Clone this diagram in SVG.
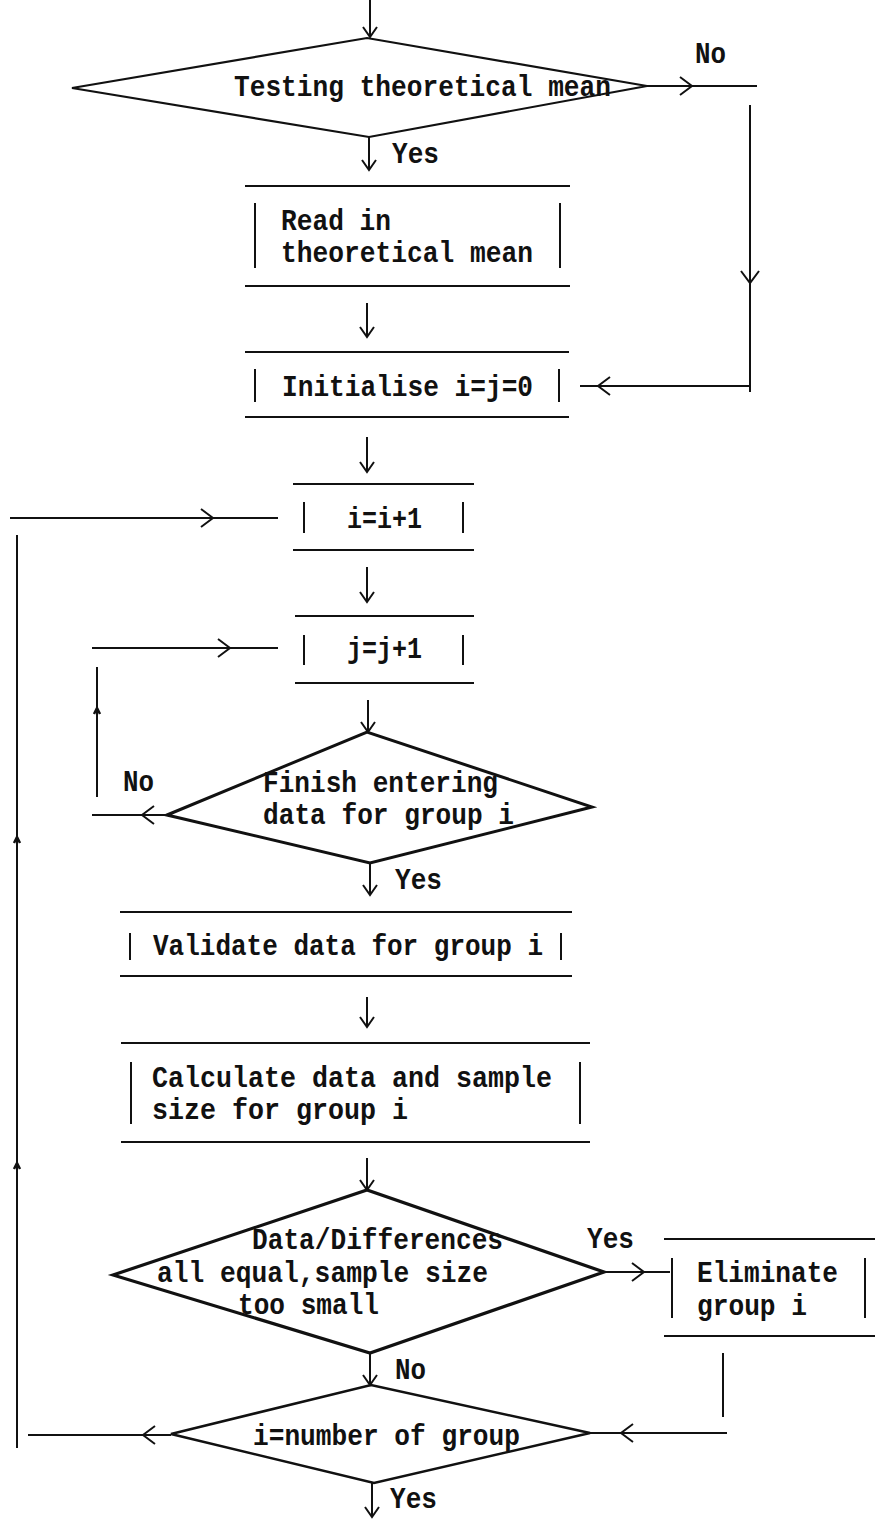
<svg xmlns="http://www.w3.org/2000/svg" width="877" height="1521" viewBox="0 0 877 1521">
<style>
.t{font-family:"Liberation Mono","Courier New",monospace;font-size:30px;font-weight:bold;fill:#111}
.hl{stroke:#111;stroke-width:2.2;fill:none}
.bar{stroke:#111;stroke-width:2;fill:none}
.dm{stroke:#111;stroke-width:2.6;fill:none;stroke-linejoin:miter}
.c{stroke:#111;stroke-width:2;fill:none}
</style>
<defs>
<marker id="big" markerUnits="userSpaceOnUse" markerWidth="30" markerHeight="30" refX="0" refY="0" orient="auto" overflow="visible">
<path d="M-12,-9 L0,0 L-12,9" fill="none" stroke="#111" stroke-width="2"/>
</marker>
<marker id="sm" markerUnits="userSpaceOnUse" markerWidth="30" markerHeight="30" refX="0" refY="0" orient="auto" overflow="visible">
<path d="M-10,-7 L0,0 L-10,7" fill="none" stroke="#111" stroke-width="2"/>
</marker>
<marker id="tiny" markerUnits="userSpaceOnUse" markerWidth="30" markerHeight="30" refX="0" refY="0" orient="auto" overflow="visible">
<path d="M-6,-3 L0,0 L-6,3" fill="none" stroke="#111" stroke-width="2.5"/>
</marker>
</defs>

<g id="connectors">
<path class="c" d="M370,0 L370,37" marker-end="url(#sm)"/>
<path class="c" d="M369,137 L369,170" marker-end="url(#sm)"/>
<path class="c" d="M647,86 L692,86 L757,86" marker-mid="url(#big)"/>
<path class="c" d="M750,105 L750,283 L750,392" marker-mid="url(#big)"/>
<path class="c" d="M750,386 L598,386 L580,386" marker-mid="url(#big)"/>
<path class="c" d="M367,303 L367,337" marker-end="url(#sm)"/>
<path class="c" d="M367,437 L367,472" marker-end="url(#sm)"/>
<path class="c" d="M367,567 L367,602" marker-end="url(#sm)"/>
<path class="c" d="M368,700 L368,732" marker-end="url(#sm)"/>
<path class="c" d="M370,863 L370,895" marker-end="url(#sm)"/>
<path class="c" d="M367,997 L367,1027" marker-end="url(#sm)"/>
<path class="c" d="M367,1158 L367,1190" marker-end="url(#sm)"/>
<path class="c" d="M604,1272 L644,1272 L670,1272" marker-mid="url(#big)"/>
<path class="c" d="M370,1353 L370,1385" marker-end="url(#sm)"/>
<path class="c" d="M723,1353 L723,1417"/>
<path class="c" d="M727,1433 L621,1433 L590,1433" marker-mid="url(#big)"/>
<path class="c" d="M372,1483 L372,1517" marker-end="url(#sm)"/>
<path class="c" d="M171,1435 L143,1435 L28,1435" marker-mid="url(#big)"/>
<path class="c" d="M17,1448 L17,1163 L17,837 L17,535" marker-mid="url(#tiny)"/>
<path class="c" d="M10,518 L213,518 L278,518" marker-mid="url(#big)"/>
<path class="c" d="M167,815 L142,815 L92,815" marker-mid="url(#big)"/>
<path class="c" d="M97,797 L97,708 L97,667" marker-mid="url(#tiny)"/>
<path class="c" d="M92,648 L230,648 L278,648" marker-mid="url(#big)"/>
<text class="t" x="695" y="63" textLength="31" lengthAdjust="spacingAndGlyphs">No</text>
<text class="t" x="392" y="163" textLength="47" lengthAdjust="spacingAndGlyphs">Yes</text>
<text class="t" x="123" y="791" textLength="31" lengthAdjust="spacingAndGlyphs">No</text>
<text class="t" x="395" y="889" textLength="47" lengthAdjust="spacingAndGlyphs">Yes</text>
<text class="t" x="587" y="1248" textLength="47" lengthAdjust="spacingAndGlyphs">Yes</text>
<text class="t" x="395" y="1379" textLength="31" lengthAdjust="spacingAndGlyphs">No</text>
<text class="t" x="390" y="1508" textLength="47" lengthAdjust="spacingAndGlyphs">Yes</text>
</g>

<g id="testing-mean">
<polygon class="dm" style="stroke-width:2.2" points="72,88 367,38 647,86 369,137"/>
<text class="t" x="234" y="96" textLength="377" lengthAdjust="spacingAndGlyphs">Testing theoretical mean</text>
</g>

<g id="read-mean">
<line class="hl" x1="245" y1="186" x2="570" y2="186"/>
<line class="hl" x1="245" y1="286" x2="570" y2="286"/>
<line class="bar" x1="255" y1="203" x2="255" y2="268"/>
<line class="bar" x1="560" y1="203" x2="560" y2="268"/>
<text class="t" x="281" y="230" textLength="110" lengthAdjust="spacingAndGlyphs">Read in</text>
<text class="t" x="281" y="262" textLength="252" lengthAdjust="spacingAndGlyphs">theoretical mean</text>
</g>

<g id="initialise">
<line class="hl" x1="245" y1="352" x2="569" y2="352"/>
<line class="hl" x1="245" y1="417" x2="569" y2="417"/>
<line class="bar" x1="255" y1="369" x2="255" y2="402"/>
<line class="bar" x1="559" y1="369" x2="559" y2="402"/>
<text class="t" x="282" y="396" textLength="251" lengthAdjust="spacingAndGlyphs">Initialise i=j=0</text>
</g>

<g id="inc-i">
<line class="hl" x1="293" y1="484" x2="474" y2="484"/>
<line class="hl" x1="293" y1="550" x2="474" y2="550"/>
<line class="bar" x1="304" y1="502" x2="304" y2="533"/>
<line class="bar" x1="463" y1="502" x2="463" y2="533"/>
<text class="t" x="347" y="528" textLength="75" lengthAdjust="spacingAndGlyphs">i=i+1</text>
</g>

<g id="inc-j">
<line class="hl" x1="295" y1="616" x2="474" y2="616"/>
<line class="hl" x1="295" y1="683" x2="474" y2="683"/>
<line class="bar" x1="304" y1="635" x2="304" y2="665"/>
<line class="bar" x1="463" y1="635" x2="463" y2="665"/>
<text class="t" x="347" y="658" textLength="75" lengthAdjust="spacingAndGlyphs">j=j+1</text>
</g>

<g id="finish-entering">
<polygon class="dm" style="stroke-width:3" points="167,815 367,732 592,807 370,863"/>
<text class="t" x="263" y="792" textLength="235" lengthAdjust="spacingAndGlyphs">Finish entering</text>
<text class="t" x="263" y="824" textLength="251" lengthAdjust="spacingAndGlyphs">data for group i</text>
</g>

<g id="validate">
<line class="hl" x1="120" y1="912" x2="572" y2="912"/>
<line class="hl" x1="120" y1="976" x2="572" y2="976"/>
<line class="bar" x1="130" y1="933" x2="130" y2="960"/>
<line class="bar" x1="561" y1="933" x2="561" y2="960"/>
<text class="t" x="153" y="955" textLength="390" lengthAdjust="spacingAndGlyphs">Validate data for group i</text>
</g>

<g id="calculate">
<line class="hl" x1="121" y1="1043" x2="590" y2="1043"/>
<line class="hl" x1="121" y1="1142" x2="590" y2="1142"/>
<line class="bar" x1="131" y1="1062" x2="131" y2="1124"/>
<line class="bar" x1="580" y1="1062" x2="580" y2="1124"/>
<text class="t" x="152" y="1087" textLength="400" lengthAdjust="spacingAndGlyphs">Calculate data and sample</text>
<text class="t" x="152" y="1119" textLength="256" lengthAdjust="spacingAndGlyphs">size for group i</text>
</g>

<g id="data-differences">
<polygon class="dm" style="stroke-width:3.2" points="113,1275 367,1190 604,1272 370,1353"/>
<text class="t" x="252" y="1249" textLength="251" lengthAdjust="spacingAndGlyphs">Data/Differences</text>
<text class="t" x="157" y="1282" textLength="331" lengthAdjust="spacingAndGlyphs">all equal,sample size</text>
<text class="t" x="238" y="1314" textLength="141" lengthAdjust="spacingAndGlyphs">too small</text>
</g>

<g id="eliminate">
<line class="hl" x1="664" y1="1239" x2="875" y2="1239"/>
<line class="hl" x1="664" y1="1336" x2="875" y2="1336"/>
<line class="bar" x1="672" y1="1258" x2="672" y2="1318"/>
<line class="bar" x1="865" y1="1258" x2="865" y2="1318"/>
<text class="t" x="697" y="1282" textLength="141" lengthAdjust="spacingAndGlyphs">Eliminate</text>
<text class="t" x="697" y="1315" textLength="110" lengthAdjust="spacingAndGlyphs">group i</text>
</g>

<g id="number-of-group">
<polygon class="dm" points="171,1434 371,1385 590,1433 374,1483"/>
<text class="t" x="253" y="1445" textLength="267" lengthAdjust="spacingAndGlyphs">i=number of group</text>
</g>
</svg>
